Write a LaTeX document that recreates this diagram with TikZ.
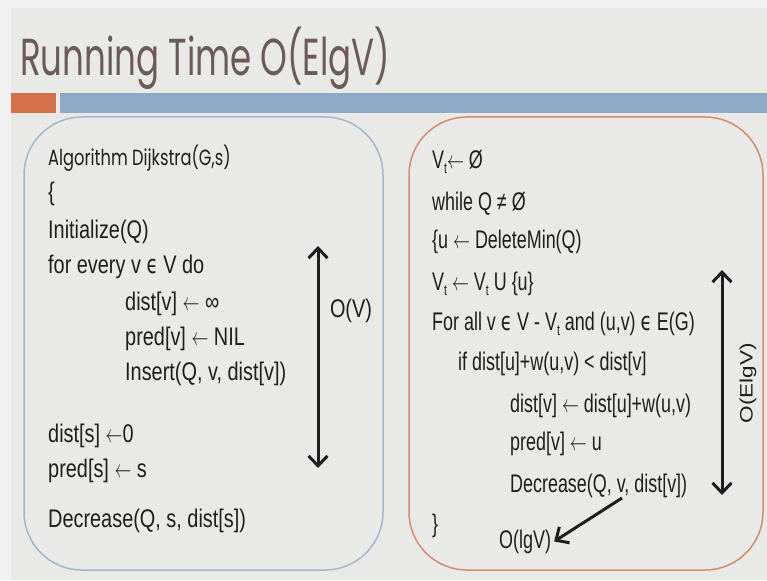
\documentclass[tikz,border=0pt]{standalone}
\usepackage{fontspec}
\setmainfont{Liberation Sans}
\newfontfamily\codefontL[FakeStretch=0.78]{Liberation Sans}
\newfontfamily\codefontR[FakeStretch=0.703]{Liberation Sans}
\newfontfamily\symfont[FakeStretch=0.72]{DejaVu Sans}
\newfontfamily\gothic[FakeStretch=0.655]{Poppins}
\newfontfamily\gothicsmall[FakeStretch=0.74]{Poppins}
\usetikzlibrary{arrows.meta}

\definecolor{pagebg}{HTML}{F2F2F2}
\definecolor{slidebg}{HTML}{E9EAE8}
\definecolor{titlecol}{HTML}{6B5A55}
\definecolor{accentorange}{HTML}{D4714A}
\definecolor{accentblue}{HTML}{8DA9C4}
\definecolor{boxblue}{HTML}{A3B6D0}
\definecolor{boxorange}{HTML}{D68C6B}
\definecolor{ink}{HTML}{1E1E1E}

% small helpers for the pseudo-code
\newcommand\elem{{\symfont ϵ}}
\newcommand\subt{\raisebox{-5pt}{\fontsize{15}{15}\selectfont t}}
\newcommand\larr{\scalebox{0.68}[1]{$\leftarrow$}}

\tikzset{
  codeL/.style={anchor=base west, inner sep=0pt, text=ink,
    font=\codefontL\fontsize{25.5}{26}\selectfont},
  codeR/.style={anchor=base west, inner sep=0pt, text=ink,
    font=\codefontR\fontsize{25.5}{26}\selectfont},
  bigarrow/.style={draw=ink, line width=3pt,
    {Straight Barb[length=10pt,width=19pt]}-{Straight Barb[length=10pt,width=19pt]}},
  onearrow/.style={draw=ink, line width=3pt,
    -{Straight Barb[length=10pt,width=19pt]}},
  panel/.style={line width=1.5pt, rounded corners=58pt},
}

\begin{document}
\begin{tikzpicture}[x=1pt,y=-1pt]
  % page and slide background
  \fill[pagebg] (0,0) rectangle (767,580);
  \useasboundingbox (0,0) rectangle (767,580);
  \fill[slidebg] (11,8) rectangle (767,580);

  % title and accent bars
  \node[anchor=base west, inner sep=0pt, text=titlecol,
        font=\gothic\fontsize{52}{52}\selectfont] (title) at (20,76) {Running Time O(ElgV)};
  \fill[accentorange] (11,93) rectangle (56,113);
  \fill[accentblue] (60,93) rectangle (767,113);

  % two panels
  \draw[panel, boxblue] (24,117) rectangle (383,570);
  \draw[panel, boxorange] (409,117) rectangle (763,570);

  % left panel: initialisation
  \node[anchor=base west, inner sep=0pt, text=ink,
        font=\gothicsmall\fontsize{22}{23}\selectfont] (l1) at (48,165) {Algorithm Dijkstra(G,s)};
  \node[codeL] (l2) at (48,200) {\{};
  \node[codeL] (l3) at (48,238) {Initialize(Q)};
  \node[codeL] (l4) at (48,273) {for every v \elem\ V do};
  \node[codeL] (l5) at (125,310) {dist[v] \larr{} ∞};
  \node[codeL] (l6) at (125,345) {pred[v] \larr{} NIL};
  \node[codeL] (l7) at (125,380) {Insert(Q, v, dist[v])};
  \node[codeL] (l8) at (48,442) {dist[s] \larr{}0};
  \node[codeL] (l9) at (48,477) {pred[s] \larr{} s};
  \node[codeL] (l10) at (48,527) {Decrease(Q, s, dist[s])};

  \coordinate (ovtop) at (318,246);
  \coordinate (ovbot) at (318,468);
  \draw[bigarrow] (ovbot) -- (ovtop);
  \node[codeL, anchor=base] (ov) at (351,317) {O(V)};

  % right panel: main loop
  \node[codeR] (r1) at (432,168) {V\subt{}\larr{} Ø};
  \node[codeR] (r2) at (432,210) {while Q ≠ Ø};
  \node[codeR] (r3) at (432,248) {\{u \larr{} DeleteMin(Q)};
  \node[codeR] (r4) at (432,290) {V\subt{} \larr{} V\subt{} U \{u\}};
  \node[codeR] (r5) at (432,330) {For all v \elem\ V - V\subt{} and (u,v) \elem\ E(G)};
  \node[codeR] (r6) at (458,370) {if dist[u]+w(u,v) < dist[v]};
  \node[codeR] (r7) at (510,412) {dist[v] \larr{} dist[u]+w(u,v)};
  \node[codeR] (r8) at (510,450) {pred[v] \larr{} u};
  \node[codeR] (r9) at (510,492) {Decrease(Q, v, dist[v])};
  \node[codeR] (r10) at (432,532) {\}};
  \node[codeR] (olg) at (499,548) {O(lgV)};

  \coordinate (oetop) at (722,270);
  \coordinate (oebot) at (722,495);
  \draw[bigarrow] (oebot) -- (oetop);
  \node[inner sep=0pt, text=ink, rotate=90,
        font=\fontsize{22.5}{23}\selectfont] (oe) at (748,383) {\scalebox{1}[0.8]{O(ElgV)}};

  \coordinate (dectail) at (622,498);
  \draw[onearrow] (dectail) -- ([xshift=3pt]olg.east);
\end{tikzpicture}
\end{document}
